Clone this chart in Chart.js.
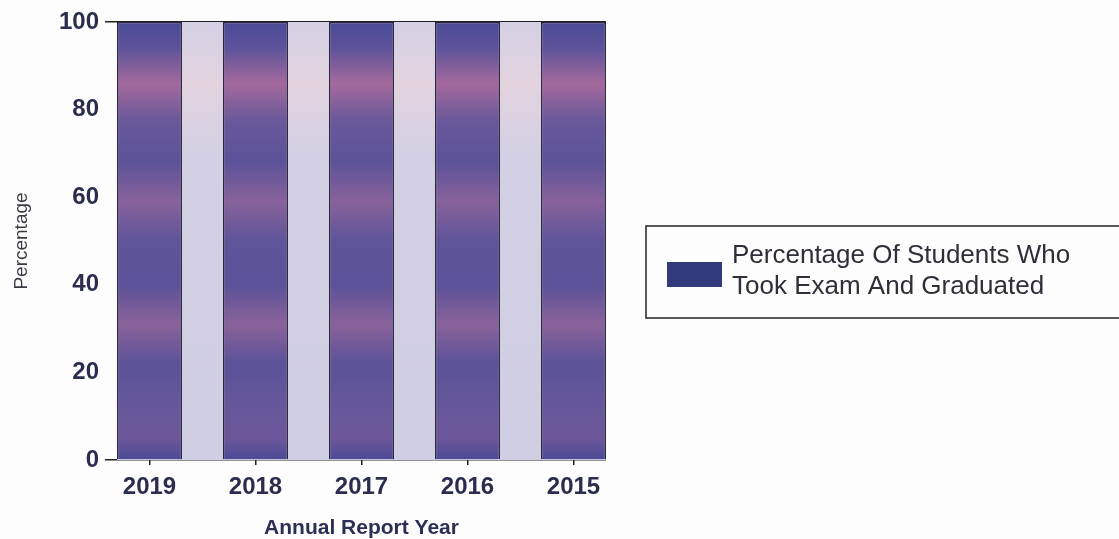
<!DOCTYPE html>
<html>
<head>
<meta charset="utf-8">
<script src="https://cdn.jsdelivr.net/npm/chart.js@4.4.1/dist/chart.umd.min.js"></script>
<style>
  html, body { margin: 0; padding: 0; background: #fdfdfd; }
  #wrap { width: 1119px; height: 539px; position: relative; }
</style>
</head>
<body>
<div id="wrap"><canvas id="chart"></canvas></div>
<script>
// data
var years = ['2019', '2018', '2017', '2016', '2015'];
var graduated = [100, 100, 100, 100, 100];
var yTicks = [0, 20, 40, 60, 80, 100];
var seriesLabel = ['Percentage Of Students Who', 'Took Exam And Graduated'];

var points = graduated.map(function (v, i) { return { x: i, y: v }; });

// purple bars with pinkish horizontal bands
function barFill(context) {
  var area = context.chart.chartArea;
  if (!area) return '#55509a';
  var g = context.chart.ctx.createLinearGradient(0, area.top, 0, area.bottom);
  g.addColorStop(0.00, '#4b4a96');
  g.addColorStop(0.06, '#5d539b');
  g.addColorStop(0.14, '#a4699c');
  g.addColorStop(0.23, '#67589b');
  g.addColorStop(0.32, '#5c5299');
  g.addColorStop(0.41, '#88629b');
  g.addColorStop(0.50, '#5e549a');
  g.addColorStop(0.60, '#5b5299');
  g.addColorStop(0.69, '#8a629a');
  g.addColorStop(0.78, '#5b5299');
  g.addColorStop(0.90, '#68589b');
  g.addColorStop(0.95, '#6c579a');
  g.addColorStop(1.00, '#4b4a96');
  return g;
}

// lavender background showing between the bars
var plotBackground = {
  id: 'plotBackground',
  beforeDatasetsDraw: function (chart) {
    var a = chart.chartArea, ctx = chart.ctx;
    var g = ctx.createLinearGradient(0, a.top, 0, a.bottom);
    g.addColorStop(0, '#d4d0e4');
    g.addColorStop(0.14, '#e2d3de');
    g.addColorStop(0.3, '#d3d0e3');
    g.addColorStop(1, '#d0cee2');
    ctx.save();
    ctx.fillStyle = g;
    ctx.fillRect(a.left, a.top, a.right - a.left, a.bottom - a.top);
    ctx.restore();
  }
};

// boxed legend on the right
var boxLegend = {
  id: 'boxLegend',
  afterDraw: function (chart) {
    var ctx = chart.ctx;
    ctx.save();
    ctx.strokeStyle = '#222';
    ctx.lineWidth = 1.5;
    ctx.beginPath();
    ctx.moveTo(1125, 226);
    ctx.lineTo(646, 226);
    ctx.lineTo(646, 318);
    ctx.lineTo(1125, 318);
    ctx.stroke();
    ctx.fillStyle = '#323a7c';
    ctx.fillRect(667, 262, 55, 25);
    ctx.fillStyle = '#2f2f3a';
    ctx.font = '26px "Liberation Sans", Arial, sans-serif';
    ctx.textBaseline = 'alphabetic';
    ctx.fillText(seriesLabel[0], 732, 263);
    ctx.fillText(seriesLabel[1], 732, 294);
    ctx.restore();
  }
};

new Chart(document.getElementById('chart'), {
  type: 'bar',
  data: {
    datasets: [{
      label: seriesLabel.join(' '),
      data: points,
      backgroundColor: barFill,
      borderColor: '#2a2542',
      borderWidth: 1.5,
      barPercentage: 0.613,
      categoryPercentage: 1
    }]
  },
  options: {
    responsive: true,
    maintainAspectRatio: false,
    animation: false,
    layout: { padding: { top: 22, right: 513, left: 0, bottom: 0 } },
    plugins: {
      legend: { display: false },
      tooltip: { enabled: false }
    },
    scales: {
      x: {
        type: 'linear',
        offset: false,
        min: -0.3066,
        max: 4.3066,
        afterBuildTicks: function (scale) {
          scale.ticks = years.map(function (y, i) { return { value: i }; });
        },
        afterFit: function (scale) { scale.height = 79; },
        border: { display: false },
        grid: { offset: false, drawOnChartArea: false, color: '#222', tickLength: 5, lineWidth: 1.5 },
        ticks: {
          color: '#2b2d4f',
          padding: 8,
          maxRotation: 0,
          font: { family: '"Liberation Sans", Arial', size: 24, weight: 'bold' },
          callback: function (v) { return years[v]; }
        },
        title: {
          display: true,
          text: 'Annual Report Year',
          color: '#2c2f55',
          padding: { top: 0, bottom: 0 },
          font: { family: '"Liberation Sans", Arial', size: 21, weight: 'bold', lineHeight: 1 }
        }
      },
      y: {
        min: 0,
        max: 100,
        afterBuildTicks: function (scale) {
          scale.ticks = yTicks.map(function (v) { return { value: v }; });
        },
        afterFit: function (scale) { scale.width = 117; },
        border: { display: false },
        grid: {
          tickLength: 12,
          lineWidth: 1.5,
          color: function (c) {
            return (c.tick && (c.tick.value === 0 || c.tick.value === 100)) ? '#222' : 'rgba(0,0,0,0)';
          }
        },
        ticks: {
          color: '#2b2d4f',
          padding: 6,
          font: { family: '"Liberation Sans", Arial', size: 24, weight: 'bold' }
        },
        title: {
          display: true,
          text: 'Percentage',
          color: '#3a3a44',
          padding: { top: 10, bottom: 0 },
          font: { family: '"Liberation Sans", Arial', size: 19 }
        }
      }
    }
  },
  plugins: [plotBackground, boxLegend]
});
</script>
</body>
</html>
